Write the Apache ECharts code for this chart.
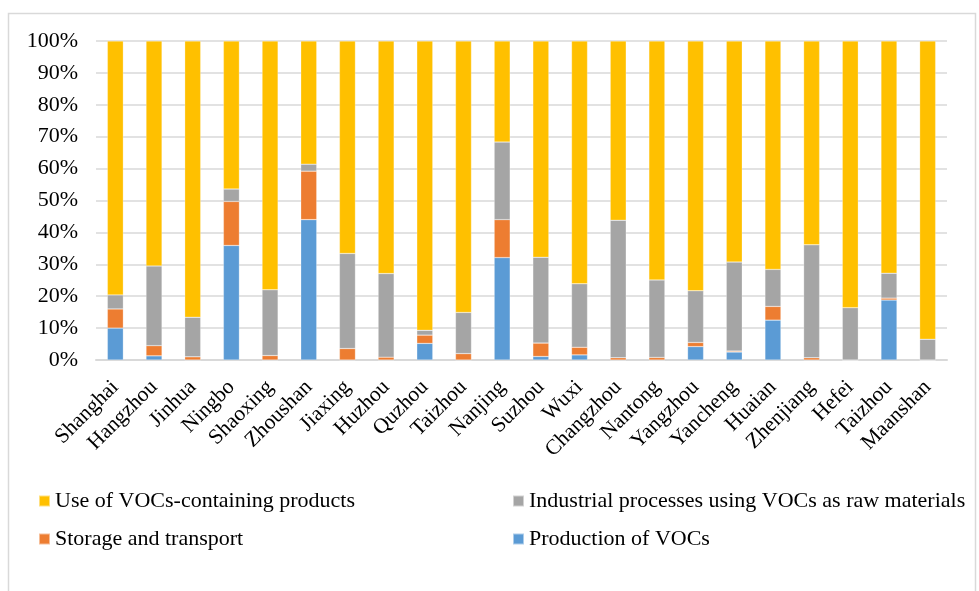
<!DOCTYPE html>
<html>
<head>
<meta charset="utf-8">
<script src="https://cdn.jsdelivr.net/npm/echarts@6/dist/echarts.min.js"></script>
<style>
  html, body { margin: 0; padding: 0; background: #fff; }
  #chart { width: 979px; height: 591px; }
</style>
</head>
<body>
<div id="chart"></div>
<script>
// Cities along the x axis
const cities = ['Shanghai', 'Hangzhou', 'Jinhua', 'Ningbo', 'Shaoxing', 'Zhoushan', 'Jiaxing', 'Huzhou',
  'Quzhou', 'Taizhou', 'Nanjing', 'Suzhou', 'Wuxi', 'Changzhou', 'Nantong', 'Yangzhou', 'Yancheng',
  'Huaian', 'Zhenjiang', 'Hefei', 'Taizhou', 'Maanshan'];

// Share of VOC emissions by source category (%)
const production = [10.0, 1.3, 0, 35.9, 0, 44.0, 0, 0, 5.2, 0, 32.1, 1.1, 1.6, 0, 0, 4.2, 2.5, 12.5, 0, 0, 18.8, 0];
const storage = [6.0, 3.2, 1.0, 13.8, 1.4, 15.2, 3.6, 0.9, 2.6, 2.0, 11.9, 4.2, 2.4, 0.7, 0.8, 1.3, 0.3, 4.3, 0.7, 0, 0.6, 0];
const industrial = [4.4, 25.0, 12.4, 3.9, 20.6, 2.2, 29.8, 26.2, 1.5, 12.9, 24.3, 26.9, 19.9, 43.1, 24.3, 16.2, 27.9, 11.6, 35.4, 16.4, 7.8, 6.5];
const products = [79.6, 70.5, 86.6, 46.4, 78.0, 38.6, 66.6, 72.9, 90.7, 85.1, 31.7, 67.8, 76.1, 56.2, 74.9, 78.3, 69.3, 71.6, 63.9, 83.6, 72.8, 93.5];

const seriesNames = ['Production of VOCs', 'Storage and transport',
  'Industrial processes using VOCs as raw materials', 'Use of VOCs-containing products'];
const seriesColors = ['#5B9BD5', '#ED7D31', '#A5A5A5', '#FFC000'];
const seriesData = [production, storage, industrial, products];

const FONT = '"Liberation Serif", "Times New Roman", serif';
const chart = echarts.init(document.getElementById('chart'));

// One legend entry per block so the two columns line up
function legendAt(name, left, top) {
  return {
    data: [name], left: left, top: top, orient: 'horizontal',
    icon: 'rect', itemWidth: 11, itemHeight: 11, itemGap: 4, padding: 0,
    textStyle: { fontFamily: FONT, fontSize: 22, color: '#000' },
    selectedMode: false
  };
}

chart.setOption({
  animation: false,
  backgroundColor: '#fff',
  graphic: [{
    type: 'rect', silent: true,
    shape: { x: 8.5, y: 13.5, width: 967, height: 600 },
    style: { fill: 'none', stroke: '#d9d9d9', lineWidth: 1.5 }
  }],
  grid: { left: 96, right: 32, top: 41, bottom: 231 },
  legend: [
    legendAt(seriesNames[3], 38, 490),
    legendAt(seriesNames[2], 512, 490),
    legendAt(seriesNames[1], 38, 528),
    legendAt(seriesNames[0], 512, 528)
  ],
  xAxis: {
    type: 'category',
    data: cities,
    axisLine: { lineStyle: { color: '#d9d9d9', width: 2 } },
    axisTick: { show: false },
    axisLabel: {
      interval: 0, rotate: 45, margin: 24,
      fontFamily: FONT, fontSize: 21.5, color: '#000'
    }
  },
  yAxis: {
    type: 'value', min: 0, max: 100, interval: 10,
    axisLine: { show: false },
    axisTick: { show: false },
    splitLine: { lineStyle: { color: '#d9d9d9', width: 1.5 } },
    axisLabel: {
      formatter: '{value}%', margin: 18,
      fontFamily: FONT, fontSize: 22, color: '#000'
    }
  },
  series: seriesData.map((d, i) => ({
    name: seriesNames[i],
    type: 'bar',
    stack: 'share',
    data: d,
    barWidth: 16,
    itemStyle: { color: seriesColors[i], borderColor: 'rgba(255,255,255,0.5)', borderWidth: 0.5 }
  }))
});
</script>
</body>
</html>
